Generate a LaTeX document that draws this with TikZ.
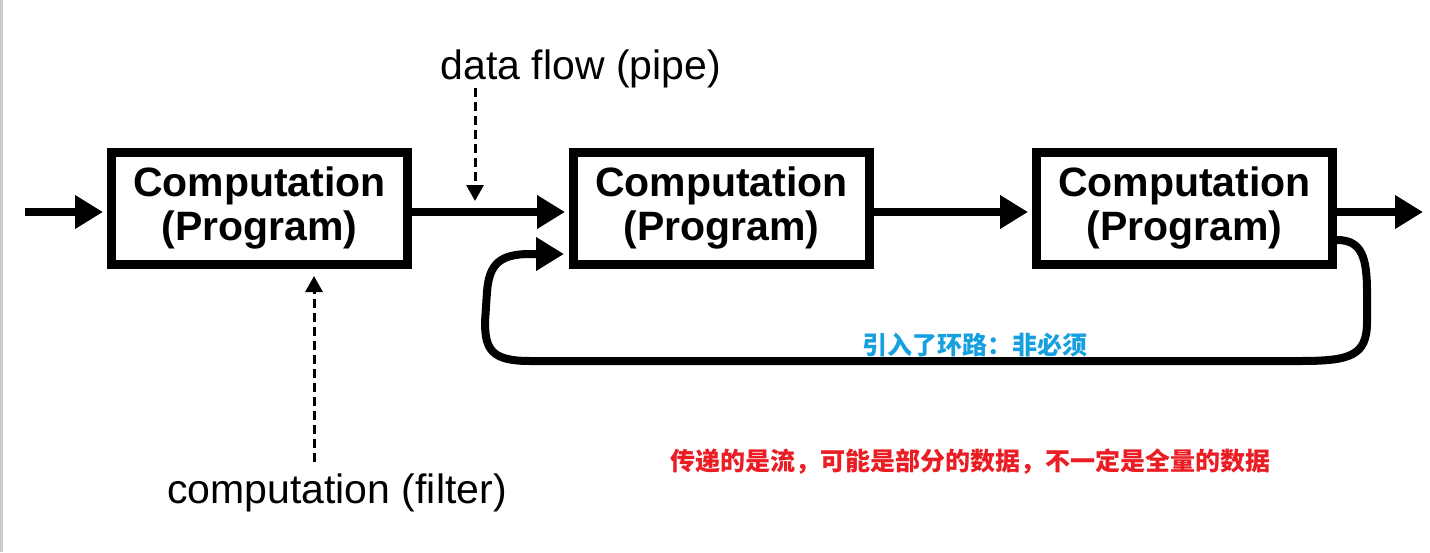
\documentclass[tikz,border=0pt]{standalone}
\usepackage{fontspec}
\setmainfont{Liberation Sans}
\newfontfamily\cjk{Noto Sans CJK SC}
\usetikzlibrary{arrows.meta,calc}
\definecolor{loopblue}{RGB}{22,160,224}
\definecolor{notered}{RGB}{234,28,36}
\tikzset{
  compbox/.style={draw=black, line width=9pt, minimum width=296pt, minimum height=112pt,
    inner sep=0pt, align=center, font=\fontsize{41}{44}\selectfont\bfseries},
  flow/.style={line width=8pt, -{Triangle[length=28pt,width=32pt]}, shorten >=4pt},
  hint/.style={line width=3pt, dash pattern=on 9pt off 5pt, -{Triangle[length=16pt,width=17pt]}},
  label/.style={font=\fontsize{41}{43}\selectfont, inner sep=0pt},
  cjknote/.style={font=\cjk\bfseries\fontsize{25}{27}\selectfont, inner sep=0pt}
}
\begin{document}
\begin{tikzpicture}[x=1pt,y=-1pt]
\useasboundingbox (0,0) rectangle (1430,552);
\fill[black!20] (0,0) rectangle (2.5,552);

\node[compbox] (b1) at (259.5,208) {Computation\\(Program)};
\node[compbox] (b2) at (721.5,208) {Computation\\(Program)};
\node[compbox] (b3) at (1184.5,208) {Computation\\(Program)};

\coordinate (in) at (25,212);
\coordinate (out) at (1423,212);
\draw[flow] (in) -- (in -| b1.west);
\draw[flow] (b1.east |- in) -- (b2.west |- in);
\draw[flow] (b2.east |- in) -- (b3.west |- in);
\draw[flow, shorten >=0pt] (b3.east |- in) -- (out);

% feedback loop
\coordinate (ls) at (1337,240);
\coordinate (le) at (568,254);
\draw[flow] (ls) .. controls (1362,240) and (1367,258) .. (1367,292)
  -- (1367,322) .. controls (1367,356) and (1350,361) .. (1300,361)
  -- (530,361) .. controls (492,361) and (485,350) .. (485,322)
  -- (487,292) .. controls (489,264) and (500,254) .. (530,254) -- (le);

% labels
\node[label] (df) at (581,69) {data flow (pipe)};
\coordinate (dft) at (475,201);
\draw[hint] (475,88) -- (dft);

\node[label] (cf) at (337,493) {computation (filter)};
\coordinate (cft) at (314,276);
\draw[hint] (314,462) -- (cft);

\node[cjknote, text=loopblue] (loopnote) at (975,345) {引入了环路：非必须};
\node[cjknote, text=notered] (streamnote) at (970,462) {传递的是流，可能是部分的数据，不一定是全量的数据};
\end{tikzpicture}
\end{document}
